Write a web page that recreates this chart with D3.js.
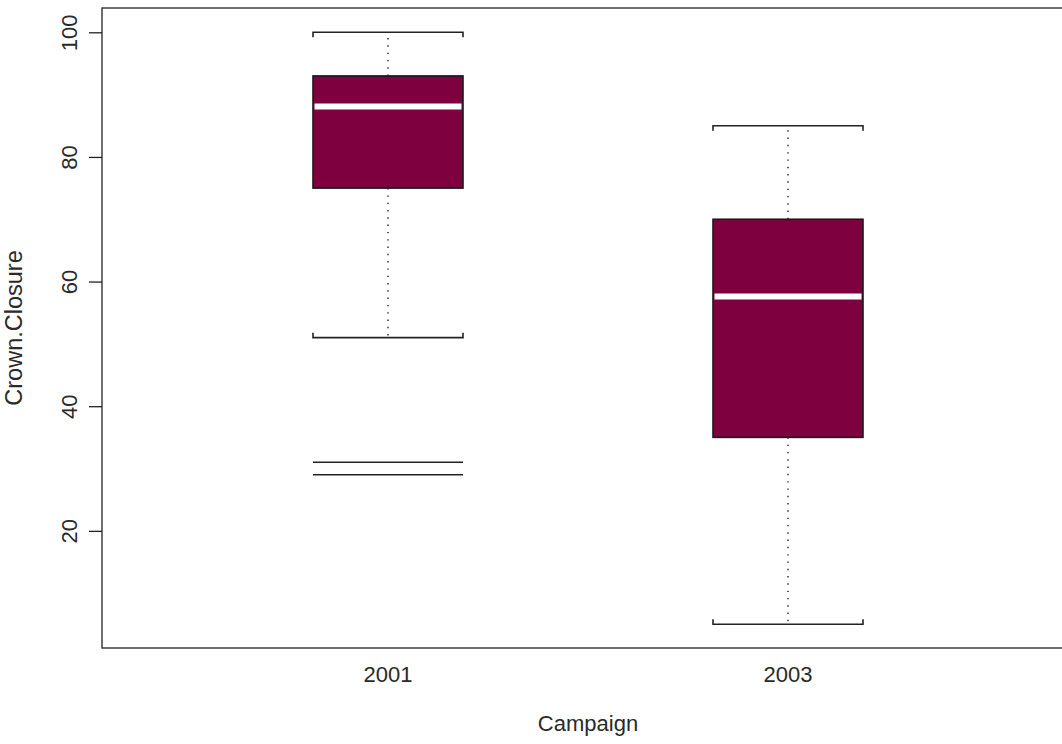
<!DOCTYPE html>
<html>
<head>
<meta charset="utf-8">
<script src="https://cdn.jsdelivr.net/npm/d3@7"></script>
<style>
  html, body { margin: 0; padding: 0; background: #fff; }
  svg { display: block; }
  text { font-family: "Liberation Sans", Arial, sans-serif; fill: #2a2a2a; }
</style>
</head>
<body>
<svg id="chart" width="1062" height="744"></svg>
<script>
// Crown closure by campaign: five-number summaries and outliers
const campaigns   = ["2001", "2003"];
const whiskerLow  = [51, 5];
const quartile1   = [75, 35];
const medians     = [88.1, 57.6];
const quartile3   = [93, 70];
const whiskerHigh = [100, 85];
const outliers    = [[31, 29], []];
const yTicks      = [20, 40, 60, 80, 100];

const svg = d3.select("#chart");
const plot = { left: 102, top: 8, right: 1074, bottom: 648 };

const x = d3.scalePoint()
  .domain(campaigns)
  .range([plot.left, plot.right])
  .padding(0.715);

const y = d3.scaleLinear()
  .domain([1.2, 103.9])
  .range([plot.bottom, plot.top]);

const boxW = 150;
const capTick = 5;
const fill = "#7f003f";

// frame around the plotting region
svg.append("rect")
  .attr("x", plot.left).attr("y", plot.top)
  .attr("width", plot.right - plot.left).attr("height", plot.bottom - plot.top)
  .attr("fill", "none").attr("stroke", "#222").attr("stroke-width", 1.3);

// left axis: rotated tick labels
const yAxis = d3.axisLeft(y).tickValues(yTicks).tickSize(13).tickPadding(12);
const gy = svg.append("g").attr("transform", `translate(${plot.left},0)`).call(yAxis);
gy.select(".domain").remove();
gy.selectAll(".tick line").attr("stroke", "#222").attr("stroke-width", 1.3);
gy.selectAll(".tick text")
  .attr("x", null).attr("dy", null)
  .attr("text-anchor", "middle")
  .attr("transform", "translate(-25,0) rotate(-90)")
  .attr("font-size", 22)
  .style("font-family", "'Liberation Sans', Arial, sans-serif")
  .attr("fill", "#2a2a2a");

// category labels
svg.selectAll(".xlab").data(campaigns).enter().append("text")
  .attr("class", "xlab")
  .attr("x", d => x(d)).attr("y", 682)
  .attr("text-anchor", "middle").attr("font-size", 22)
  .text(d => d);

// axis titles
svg.append("text")
  .attr("x", (plot.left + plot.right) / 2).attr("y", 731)
  .attr("text-anchor", "middle").attr("font-size", 22)
  .text("Campaign");
svg.append("text")
  .attr("transform", `translate(22,${(plot.top + plot.bottom) / 2}) rotate(-90)`)
  .attr("text-anchor", "middle").attr("font-size", 23.5)
  .text("Crown.Closure");

// boxes
campaigns.forEach((c, i) => {
  const cx = x(c);
  const g = svg.append("g");

  // dotted whiskers
  [[quartile3[i], whiskerHigh[i]], [quartile1[i], whiskerLow[i]]].forEach(([a, b]) => {
    g.append("line")
      .attr("x1", cx).attr("x2", cx)
      .attr("y1", y(a)).attr("y2", y(b))
      .attr("stroke", "#111").attr("stroke-width", 1.3)
      .attr("stroke-dasharray", "1.4,5.9");
  });

  // bracket-shaped caps
  const hi = y(whiskerHigh[i]), lo = y(whiskerLow[i]);
  g.append("path")
    .attr("d", `M${cx - boxW / 2},${hi + capTick}V${hi}H${cx + boxW / 2}V${hi + capTick}`)
    .attr("fill", "none").attr("stroke", "#222").attr("stroke-width", 1.6);
  g.append("path")
    .attr("d", `M${cx - boxW / 2},${lo - capTick}V${lo}H${cx + boxW / 2}V${lo - capTick}`)
    .attr("fill", "none").attr("stroke", "#222").attr("stroke-width", 1.6);

  // interquartile box
  g.append("rect")
    .attr("x", cx - boxW / 2).attr("y", y(quartile3[i]))
    .attr("width", boxW).attr("height", y(quartile1[i]) - y(quartile3[i]))
    .attr("fill", fill).attr("stroke", "#1a1a1a").attr("stroke-width", 1.6);

  // median
  g.append("line")
    .attr("x1", cx - boxW / 2 + 1.5).attr("x2", cx + boxW / 2 - 1.5)
    .attr("y1", y(medians[i])).attr("y2", y(medians[i]))
    .attr("stroke", "#fff").attr("stroke-width", 6);

  // outliers drawn as horizontal lines
  outliers[i].forEach(v => {
    g.append("line")
      .attr("x1", cx - boxW / 2).attr("x2", cx + boxW / 2)
      .attr("y1", y(v)).attr("y2", y(v))
      .attr("stroke", "#222").attr("stroke-width", 1.6);
  });
});
</script>
</body>
</html>
